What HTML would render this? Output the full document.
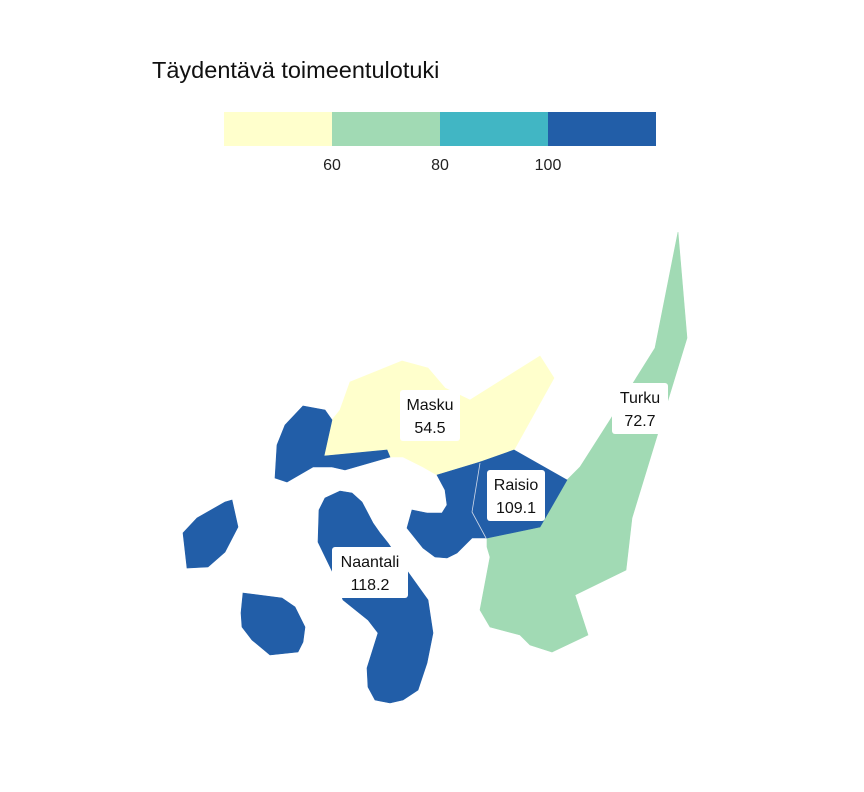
<!DOCTYPE html>
<html><head><meta charset="utf-8"><style>
body{margin:0;background:#fff;}
svg{display:block;font-family:"Liberation Sans",sans-serif;}
</style></head><body>
<svg id="chart" width="864" height="792" viewBox="0 0 864 792">
<text x="152" y="78" font-size="23.5" fill="#111">Täydentävä toimeentulotuki</text>
<g id="legend"></g>
<g id="map"></g>
<g id="labels"></g>
</svg>
<script>
const regions = ["Masku","Turku","Raisio","Naantali"];
const values = [54.5, 72.7, 109.1, 118.2];
const breaks = [60, 80, 100];
const tickLabels = ["60","80","100"];
const palette = ["#ffffcc","#a1dab4","#41b6c4","#225ea8"];

function colorOf(v){let i=0;while(i<breaks.length&&v>=breaks[i])i++;return palette[i];}
const NS="http://www.w3.org/2000/svg";
function mk(tag,attrs,parent){const e=document.createElementNS(NS,tag);for(const k in attrs)e.setAttribute(k,attrs[k]);parent.appendChild(e);return e;}

// legend
const lg=document.getElementById('legend');
const lx0=224, segW=108;
palette.forEach((c,i)=>{
  const r=mk('rect',{x:lx0+i*segW,y:112,width:segW,height:34,fill:c},lg);
  
  
});
tickLabels.forEach((t,i)=>{
  const tx=mk('text',{x:lx0+(i+1)*segW,y:170,'font-size':16,'text-anchor':'middle',fill:'#222'},lg);
  tx.textContent=t;
  
  
});

// geometry (shapes, not data)
const shapes={
 "Masku":[["324,456 332,420 340,410 350,382 402,361 428,368 445,388 470,400 540,356 554,378 514,450 480,462 437,475 423,467 403,457 390,457 387,450"]],
 "Turku":[["678,232 687,338 632,518 626,570 575,595 588,635 552,652 530,645 520,635 490,627 480,610 490,557 487,547 487,538 540,527 567,480 580,467 610,420 655,348"]],
 "Raisio":[["480,462 514,450 567,480 540,527 487,538 472,512"]],
 "Naantali":[
  ["437,475 480,462 472,512 487,538 472,538 457,553 447,558 435,557 423,548 407,528 412,510 427,513 442,513 447,505 445,490"],
  ["275,478 277,445 285,425 303,406 325,410 332,420 324,456 387,450 390,457 345,470 332,467 313,467 287,482"],
  ["325,498 340,491 352,493 362,502 373,523 380,533 388,543 408,572 428,600 433,633 427,663 418,690 403,700 390,703 375,700 368,687 367,668 378,633 368,620 343,600 333,573 318,542 319,510"],
  ["183,533 197,518 225,502 232,500 238,527 225,552 208,567 187,568"],
  ["243,593 282,598 295,607 305,627 303,642 298,652 270,655 252,640 242,627 241,613"]
 ]
};
const labelPos={"Masku":[430,415],"Turku":[640,408],"Raisio":[516,495],"Naantali":[370,572]};
const boxW={"Masku":60,"Turku":56,"Raisio":58,"Naantali":76};

const mp=document.getElementById('map');
regions.forEach((name,i)=>{
  const c=colorOf(values[i]);
  shapes[name].forEach(pts=>{
    const p=mk('polygon',{points:pts[0],fill:c,stroke:c,'stroke-width':0.6},mp);
    
    
  });
});
mk('polyline',{points:"480,463 472,512 486,538",fill:'none',stroke:'#cfd8e8','stroke-width':0.8},mp);

const lb=document.getElementById('labels');
regions.forEach((name,i)=>{
  const [cx,cy]=labelPos[name];const w=boxW[name];
  const g=mk('g',{},lb);
  
  
  mk('rect',{x:cx-w/2,y:cy-25,width:w,height:51,rx:3,fill:'#fff'},g);
  const t1=mk('text',{x:cx,y:cy-5,'font-size':16,'text-anchor':'middle',fill:'#111'},g);
  t1.textContent=name;
  const t2=mk('text',{x:cx,y:cy+18,'font-size':16,'text-anchor':'middle',fill:'#111'},g);
  t2.textContent=values[i].toFixed(1);
});
</script>
</body></html>
